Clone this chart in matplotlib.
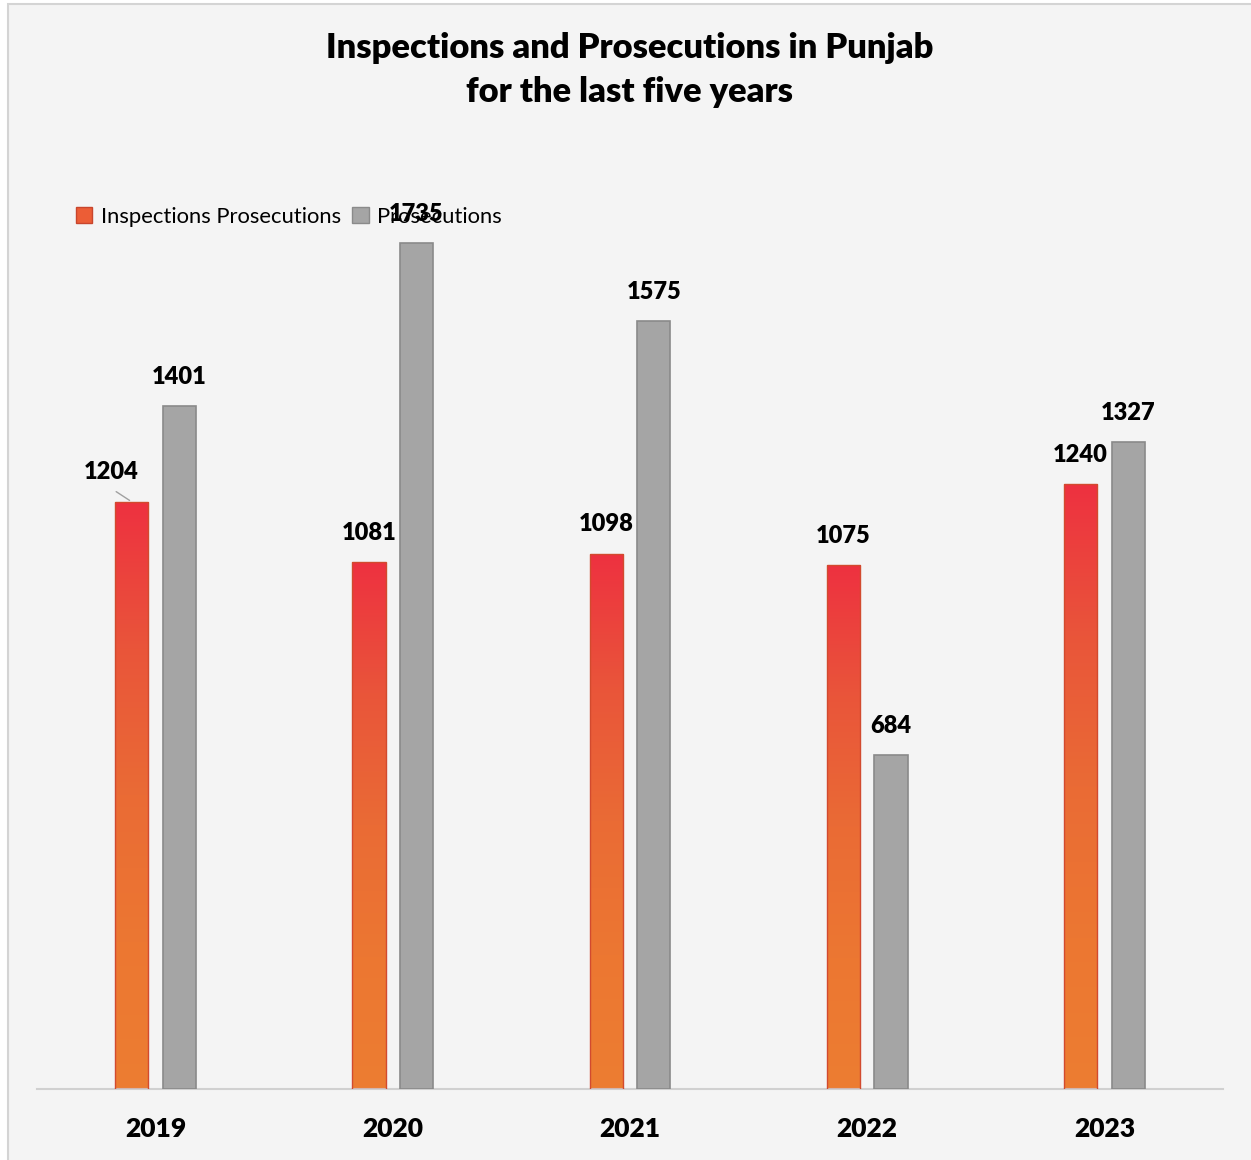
import numpy as np
import matplotlib.pyplot as plt
from matplotlib.patches import Rectangle
from matplotlib.colors import LinearSegmentedColormap

years = ['2019', '2020', '2021', '2022', '2023']
inspections = [1204, 1081, 1098, 1075, 1240]
prosecutions = [1401, 1735, 1575, 684, 1327]

plt.rcParams['font.family'] = ['Lato', 'DejaVu Sans']

W, H = 1251, 1160
fig = plt.figure(figsize=(W / 100, H / 100), dpi=100)
fig.patch.set_facecolor('white')

# chart area background with thin border
fig.patches.append(Rectangle((8 / W, -0.01), 1.2, (H - 4) / H + 0.01, transform=fig.transFigure,
                             facecolor='#f4f4f4', edgecolor='#d4d4d4', lw=1.5, zorder=-10))

ax = fig.add_axes([37 / W, (H - 1089) / H, (1223 - 37) / W, (1089 - 160) / H])
ax.set_facecolor('none')
ymax = 929 / (846 / 1735)

x = np.arange(len(years))
bw = 0.14
off = 0.1

# gradient fill: orange at the bottom, red at the top of each bar
grad = LinearSegmentedColormap.from_list(
    'ro', [(0, '#ed7d31'), (0.25, '#ec7732'), (0.5, '#ea6b35'), (0.75, '#e9553a'), (1, '#ee3140')])
gimg = np.linspace(0, 1, 256).reshape(-1, 1)

bars_i = ax.bar(x - off, inspections, bw, color='none', edgecolor='#d24a2e', lw=1, zorder=3)
for b in bars_i:
    x0, y0 = b.get_x(), b.get_y()
    im = ax.imshow(gimg, cmap=grad, origin='lower', aspect='auto',
                   extent=[x0, x0 + b.get_width(), y0, y0 + b.get_height()], zorder=2)
    im.set_clip_path(b)
ax.set_xlim(-0.5, 4.5)
ax.set_ylim(0, ymax)

bars_p = ax.bar(x + off, prosecutions, bw, color='#a5a5a5', edgecolor='#8a8a8a', lw=1.2, zorder=3)

# data labels
lbl = dict(ha='center', va='center', fontsize=17, fontweight='heavy', textcoords='offset points')
for i, v in enumerate(inspections):
    if i == 0:
        ax.annotate(str(v), xy=(x[i] - off, v), xytext=(-15, 21.5), **lbl)
        ax.annotate('', xy=(x[i] - off, v), xytext=(-13, 8.5), textcoords='offset points',
                    arrowprops=dict(arrowstyle='-', color='#a0a0a0', lw=1))
    else:
        ax.annotate(str(v), xy=(x[i] - off, v), xytext=(0, 21), **lbl)
for i, v in enumerate(prosecutions):
    ax.annotate(str(v), xy=(x[i] + off, v), xytext=(0, 21), **lbl)

for s in ['top', 'right', 'left']:
    ax.spines[s].set_visible(False)
ax.spines['bottom'].set_color('#d0d0d0')
ax.spines['bottom'].set_linewidth(1.5)
ax.set_yticks([])
ax.set_xticks(x)
ax.set_xticklabels(years, fontsize=19, fontweight='heavy')
ax.tick_params(axis='x', length=0, pad=20.5)

fig.text(630 / W, 1 - 70 / H, 'Inspections and Prosecutions in Punjab\nfor the last five years',
         ha='center', va='center', fontsize=24.8, fontweight='heavy', linespacing=1.45)

h1 = Rectangle((0, 0), 1, 1, facecolor='#ec5d36', edgecolor='#c8452c')
h2 = Rectangle((0, 0), 1, 1, facecolor='#a5a5a5', edgecolor='#8a8a8a')
fig.legend([h1, h2], ['Inspections Prosecutions', 'Prosecutions'], loc='center left',
           bbox_to_anchor=(56 / W, 1 - 217 / H), ncol=2, frameon=False, fontsize=15.8,
           handlelength=0.75, handleheight=0.75, handletextpad=0.4, columnspacing=0.5)

fig.savefig('out.png', dpi=100)
